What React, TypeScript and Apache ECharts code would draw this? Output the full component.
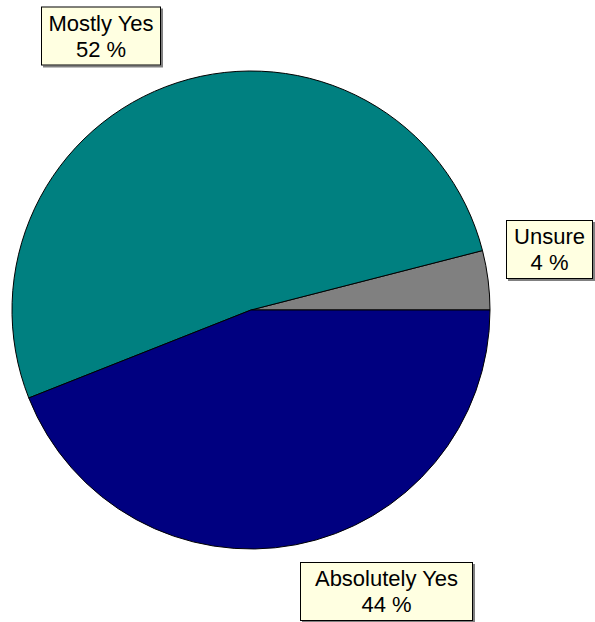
import React, { useEffect, useRef } from "react";
import * as echarts from "echarts";

const categories = ["Unsure", "Mostly Yes", "Absolutely Yes"];
const values = [4, 52, 44];
const colors = ["#808080", "#008080", "#000080"];

// label box placement (layout only)
const labelCenters = [
  [549.5, 249.5],
  [101, 36],
  [386.5, 591.5],
];
const labelWidths = [77, 110, 163];

export default function App() {
  const ref = useRef<HTMLDivElement>(null);
  useEffect(() => {
    if (!ref.current) return;
    const chart = echarts.init(ref.current, null, { renderer: "svg" });
    chart.setOption({
      animation: false,
      backgroundColor: "#ffffff",
      series: [
        {
          type: "pie",
          center: [251, 310],
          radius: 239,
          startAngle: 0,
          clockwise: false,
          avoidLabelOverlap: false,
          silent: true,
          itemStyle: { borderColor: "#000000", borderWidth: 1 },
          labelLine: { show: false },
          data: categories.map((name, i) => ({
            name,
            value: values[i],
            itemStyle: { color: colors[i] },
            label: { width: labelWidths[i] },
          })),
          label: {
            show: true,
            position: "outside",
            formatter: (p: any) => `${p.name}\n${p.value} %`,
            color: "#000000",
            fontFamily: "Liberation Sans, Arial, sans-serif",
            fontSize: 22,
            lineHeight: 26,
            align: "center",
            overflow: "none",
            backgroundColor: "#FFFFE1",
            borderColor: "#000000",
            borderWidth: 1,
            padding: [3, 4, 2, 4],
            shadowColor: "#808080",
            shadowOffsetX: 2,
            shadowOffsetY: 2,
            shadowBlur: 0,
          },
          labelLayout: (params: any) => {
            const c = labelCenters[params.dataIndex];
            return {
              x: c[0],
              y: c[1],
              align: "center",
              verticalAlign: "middle",
            };
          },
        },
      ],
    });
    return () => chart.dispose();
  }, []);
  return (
    <div
      ref={ref}
      style={{ position: "fixed", left: 0, top: 0, width: 595, height: 622 }}
    />
  );
}
